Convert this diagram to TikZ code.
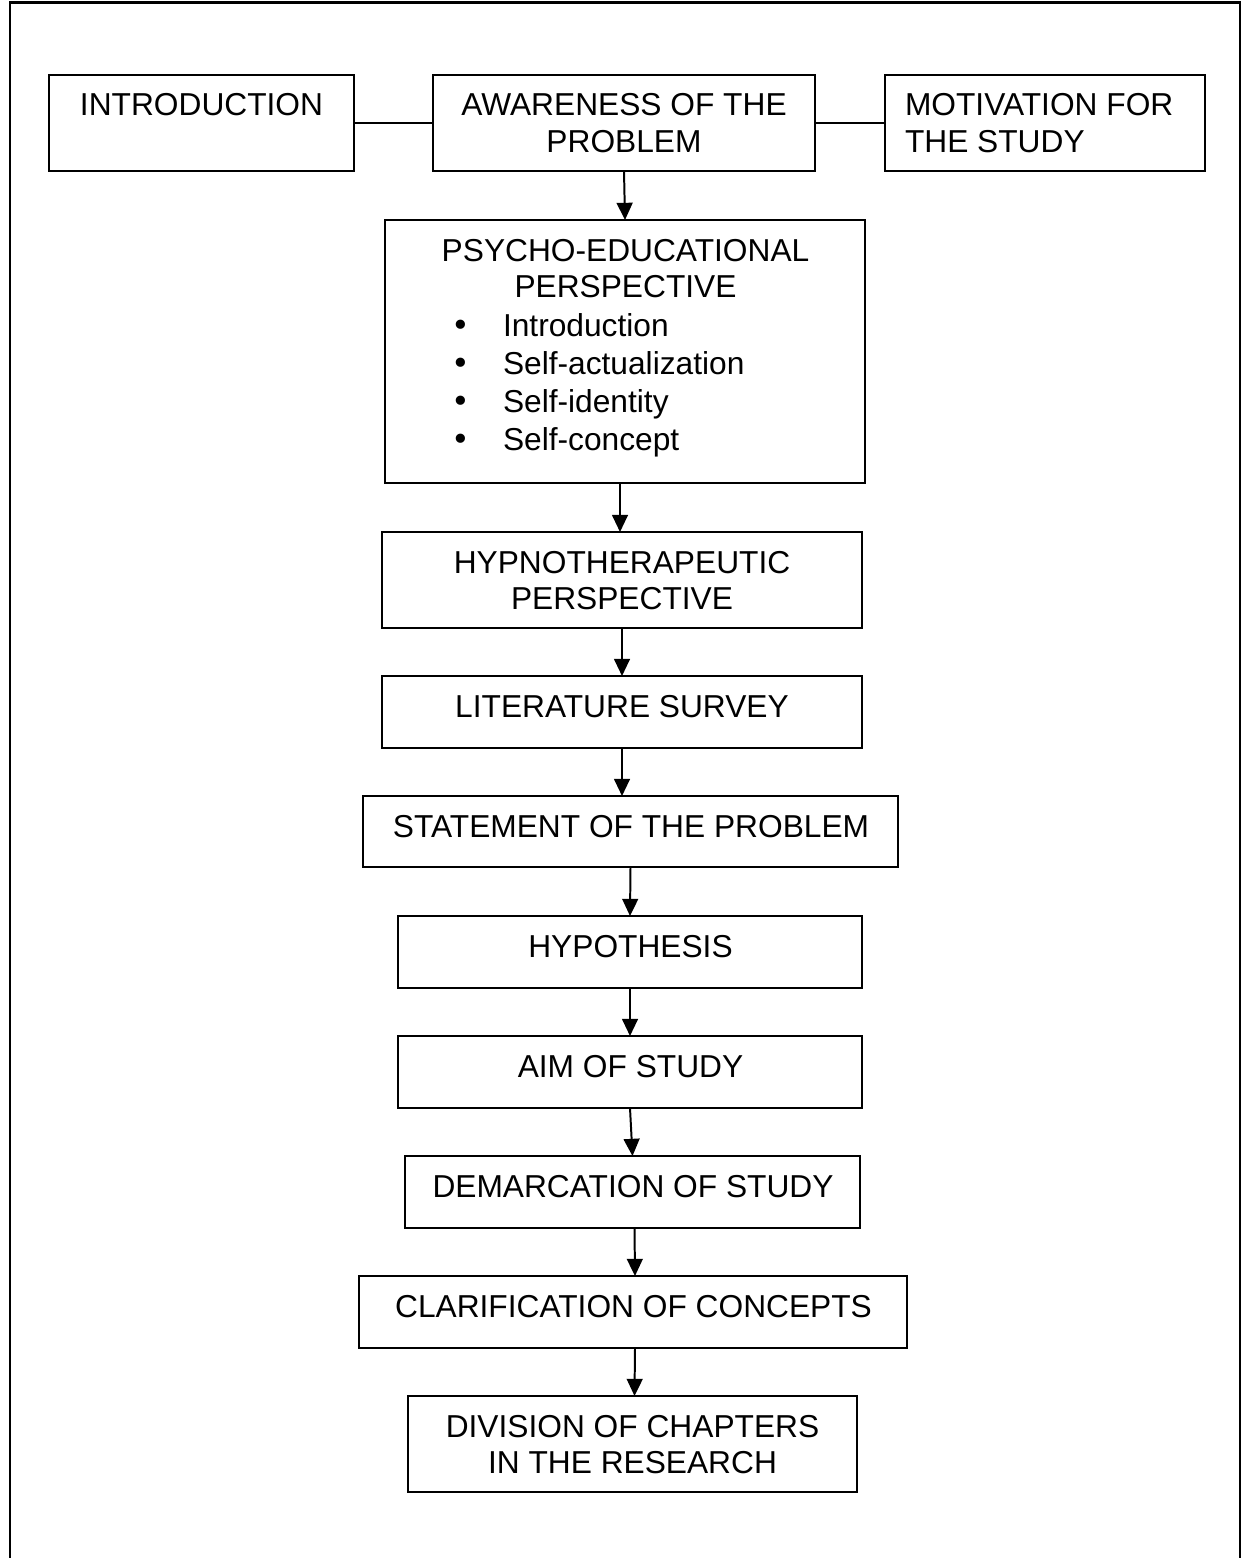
\documentclass[tikz,border=0pt]{standalone}
\usepackage{fontspec}
\setmainfont{Liberation Sans}
\newfontfamily\dotfont{DejaVu Sans}
\usetikzlibrary{arrows.meta,calc}

% one drawing unit = one pixel of the layout grid
\def\pxu{0.3785pt}

% list bullet
\newcommand\listdot{{\dotfont •}}

\tikzset{
  box/.style={draw, line width=0.75pt, rectangle, inner sep=0pt, outer sep=0pt},
  lbl/.style={inner sep=0pt, outer sep=0pt, font=\fontsize{12}{13.8}\selectfont},
  arr/.style={line width=0.75pt, -{Triangle[width=6pt,length=6.5pt]}},
  link/.style={line width=0.75pt},
  frame/.style={line width=1pt}
}

% \flowbox{name}{left}{top}{right}{bottom}
\newcommand\flowbox[5]{%
  \node[box, anchor=north west,
        minimum width={(#4-#2)*\pxu}, minimum height={(#5-#3)*\pxu}] (#1) at (#2,#3) {};}

\begin{document}
\begin{tikzpicture}[x=\pxu, y=-\pxu]
  \useasboundingbox (0,0) rectangle (1249,1558);

  % outer frame, open at the bottom
  \draw[frame] (10,1575) -- (10,2.5) -- (1240,2.5) -- (1240,1575);

  % top row
  \flowbox{intro}{49}{75}{354}{171}
  \flowbox{aware}{433}{75}{815}{171}
  \flowbox{motiv}{885}{75}{1205}{171}
  \node[lbl, anchor=base] (introT) at (201.5,116) {INTRODUCTION};
  \node[lbl, anchor=base] (awareT) at (624,116)
    {\begin{tabular}[t]{@{}c@{}}AWARENESS OF THE\\PROBLEM\end{tabular}};
  \node[lbl, anchor=base west] (motivT) at (905,116)
    {\begin{tabular}[t]{@{}l@{}}MOTIVATION FOR\\THE STUDY\end{tabular}};

  % psycho-educational perspective
  \flowbox{psy}{385}{220}{865}{483}
  \node[lbl, anchor=base] (psyT) at (625.5,261)
    {\begin{tabular}[t]{@{}c@{}}PSYCHO-EDUCATIONAL\\PERSPECTIVE\end{tabular}};
  \node[lbl, anchor=base] (b1) at (461,336) {\listdot};
  \node[lbl, anchor=base] (b2) at (461,374) {\listdot};
  \node[lbl, anchor=base] (b3) at (461,412) {\listdot};
  \node[lbl, anchor=base] (b4) at (461,450) {\listdot};
  \node[lbl, anchor=base west] (i1) at (503,336) {Introduction};
  \node[lbl, anchor=base west] (i2) at (503,374) {Self-actualization};
  \node[lbl, anchor=base west] (i3) at (503,412) {Self-identity};
  \node[lbl, anchor=base west] (i4) at (503,450) {Self-concept};

  % main column
  \flowbox{hyp}{382}{532}{862}{628}
  \node[lbl, anchor=base] (hypT) at (622,573)
    {\begin{tabular}[t]{@{}c@{}}HYPNOTHERAPEUTIC\\PERSPECTIVE\end{tabular}};

  \flowbox{lit}{382}{676}{862}{748}
  \node[lbl, anchor=base] (litT) at (622,717) {LITERATURE SURVEY};

  \flowbox{stmt}{363}{796}{898}{867}
  \node[lbl, anchor=base] (stmtT) at (631,837) {STATEMENT OF THE PROBLEM};

  \flowbox{hypo}{398}{916}{862}{988}
  \node[lbl, anchor=base] (hypoT) at (630.5,957) {HYPOTHESIS};

  \flowbox{aim}{398}{1036}{862}{1108}
  \node[lbl, anchor=base] (aimT) at (630.5,1077) {AIM OF STUDY};

  \flowbox{dem}{405}{1156}{860}{1228}
  \node[lbl, anchor=base] (demT) at (633,1197) {DEMARCATION OF STUDY};

  \flowbox{clar}{359}{1276}{907}{1348}
  \node[lbl, anchor=base] (clarT) at (633.5,1317) {CLARIFICATION OF CONCEPTS};

  \flowbox{div}{408}{1396}{857}{1492}
  \node[lbl, anchor=base] (divT) at (632.5,1437)
    {\begin{tabular}[t]{@{}c@{}}DIVISION OF CHAPTERS\\IN THE RESEARCH\end{tabular}};

  % connectors
  \draw[link] (intro) -- (aware);
  \draw[link] (aware) -- (motiv);
  \draw[arr] (aware.south) -- (psy.north);
  \draw[arr] ([xshift=-5*\pxu]psy.south) -- ([xshift=-2*\pxu]hyp.north);
  \draw[arr] (hyp.south) -- (lit.north);
  \draw[arr] (lit.south) -- (lit.south |- stmt.north);
  \draw[arr] (stmt.south) -- (hypo.north);
  \draw[arr] (hypo.south) -- (aim.north);
  \draw[arr] (aim.south) -- (dem.north);
  \draw[arr] ([xshift=2*\pxu]dem.south) -- ([xshift=2*\pxu]clar.north);
  \draw[arr] ([xshift=2*\pxu]clar.south) -- ([xshift=2*\pxu]div.north);
\end{tikzpicture}
\end{document}
